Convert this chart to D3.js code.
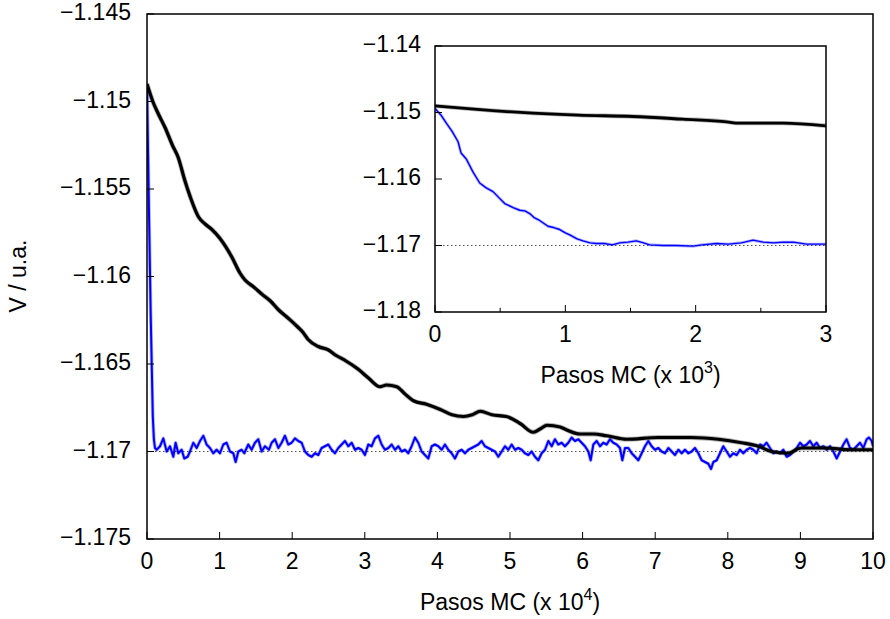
<!DOCTYPE html>
<html lang="es">
<head>
<meta charset="UTF-8">
<title>V vs Pasos MC</title>
<script src="https://d3js.org/d3.v7.min.js"></script>
<style>
  body { margin: 0; background: #fff; }
  svg { font-family: "Liberation Sans", Arial, sans-serif; }
  .frame { fill: none; stroke: #000; stroke-width: 1.5; }
  .tick-label { font-size: 23px; fill: #000; }
  .title { font-size: 23px; fill: #000; }
  .ref { stroke: #555; stroke-width: 1; stroke-dasharray: 1.5, 2.5; fill: none; }
</style>
</head>
<body>
<script>
// main plot, x in units of 10^4 MC steps
const mainXTicks = [0, 1, 2, 3, 4, 5, 6, 7, 8, 9, 10];
const mainYTicks = [-1.175, -1.17, -1.165, -1.16, -1.155, -1.15, -1.145];
const mainYLabels = ["\u22121.175", "\u22121.17", "\u22121.165", "\u22121.16", "\u22121.155", "\u22121.15", "\u22121.145"];

// inset, x in units of 10^3 MC steps
const insetXTicks = [0, 1, 2, 3];
const insetXMinor = [0.5, 1.5, 2.5];
const insetYTicks = [-1.18, -1.17, -1.16, -1.15, -1.14];
const insetYLabels = ["\u22121.18", "\u22121.17", "\u22121.16", "\u22121.15", "\u22121.14"];

const refLevel = -1.17;

const mainBlack = [
  [0, -1.1490], [0.08, -1.1500], [0.155, -1.1507], [0.25, -1.1515], [0.35, -1.1525],
  [0.43, -1.1532], [0.52, -1.1545], [0.6, -1.1555], [0.71, -1.1566], [0.8, -1.1570],
  [0.89, -1.1573], [1.0, -1.1578], [1.17, -1.1589], [1.28, -1.1598], [1.35, -1.1602],
  [1.47, -1.1606], [1.58, -1.1610], [1.7, -1.1614], [1.81, -1.1619], [1.95, -1.1624],
  [2.08, -1.1629], [2.15, -1.1632], [2.22, -1.1636], [2.36, -1.1640], [2.5, -1.1642],
  [2.6, -1.1645], [2.73, -1.1648], [2.91, -1.1653], [3.05, -1.1658], [3.21, -1.1663],
  [3.3, -1.1662], [3.44, -1.1663], [3.55, -1.1667], [3.67, -1.1671], [3.85, -1.1673],
  [4.04, -1.1676], [4.2, -1.1679], [4.36, -1.1680], [4.48, -1.1679], [4.59, -1.1677],
  [4.75, -1.1679], [4.95, -1.1680], [5.14, -1.1684], [5.32, -1.1689], [5.42, -1.1687],
  [5.51, -1.1685], [5.69, -1.1686], [5.8, -1.1688], [5.96, -1.1690], [6.15, -1.1690],
  [6.33, -1.1691], [6.61, -1.1693], [7.04, -1.1692], [7.5, -1.1692], [7.87, -1.1693],
  [8.19, -1.1695], [8.42, -1.1697], [8.6, -1.1700], [8.83, -1.1701], [9.01, -1.1698],
  [9.34, -1.1698], [9.7, -1.1699], [10.0, -1.1699]
];

const mainBlue = [
  [0, -1.1490], [0.015, -1.1530], [0.03, -1.1570], [0.05, -1.1620], [0.065, -1.1650],
  [0.08, -1.1680], [0.095, -1.1693], [0.11, -1.1698],
  [0.133, -1.1699], [0.179, -1.1697], [0.225, -1.16925], [0.271, -1.1700], [0.317, -1.1697],
  [0.362, -1.1703], [0.394, -1.1695], [0.431, -1.1701], [0.477, -1.1699], [0.514, -1.1704],
  [0.56, -1.1703], [0.592, -1.1700], [0.638, -1.1695], [0.684, -1.1698], [0.73, -1.1694],
  [0.776, -1.1691], [0.821, -1.1696], [0.867, -1.1698], [0.913, -1.1701], [0.959, -1.1699],
  [1.005, -1.1701], [1.051, -1.1696], [1.097, -1.1695], [1.143, -1.1700], [1.189, -1.1701],
  [1.221, -1.1706], [1.258, -1.1700], [1.304, -1.1699], [1.34, -1.1701], [1.395, -1.1696],
  [1.441, -1.1699], [1.487, -1.1695], [1.533, -1.1693], [1.579, -1.1700], [1.625, -1.1697],
  [1.68, -1.1699], [1.717, -1.1695], [1.763, -1.1693], [1.809, -1.1698], [1.854, -1.1695],
  [1.9, -1.1691], [1.946, -1.1696], [1.992, -1.1695], [2.038, -1.16925], [2.084, -1.1694],
  [2.13, -1.1695], [2.176, -1.1700], [2.222, -1.1702], [2.268, -1.1703], [2.314, -1.1701],
  [2.36, -1.1702], [2.405, -1.1698], [2.451, -1.1697], [2.497, -1.1696], [2.543, -1.1699],
  [2.589, -1.1701], [2.635, -1.1698], [2.681, -1.1696], [2.727, -1.1694], [2.773, -1.1697],
  [2.819, -1.1695], [2.865, -1.1699], [2.91, -1.1698], [2.956, -1.1699], [3.002, -1.1702],
  [3.048, -1.1696], [3.094, -1.1697], [3.14, -1.16925], [3.186, -1.1691], [3.232, -1.1696],
  [3.278, -1.1699], [3.324, -1.1698], [3.37, -1.1696], [3.416, -1.1699], [3.462, -1.1697],
  [3.508, -1.1700], [3.553, -1.1699], [3.599, -1.1701], [3.645, -1.1697], [3.691, -1.1692],
  [3.737, -1.1695], [3.783, -1.1700], [3.829, -1.1702], [3.875, -1.1704], [3.921, -1.1697],
  [3.967, -1.1696], [4.013, -1.1697], [4.059, -1.1699], [4.104, -1.1696], [4.15, -1.1699],
  [4.196, -1.1701], [4.242, -1.1704], [4.288, -1.1700], [4.334, -1.1699], [4.38, -1.1701],
  [4.426, -1.1699], [4.472, -1.1698], [4.518, -1.1697], [4.563, -1.1696], [4.609, -1.1694],
  [4.655, -1.1697], [4.701, -1.1698], [4.747, -1.1699], [4.793, -1.1700], [4.839, -1.1703],
  [4.885, -1.1700], [4.931, -1.1697], [4.977, -1.1699], [5.023, -1.1696], [5.069, -1.1699],
  [5.114, -1.1698], [5.16, -1.1699], [5.206, -1.1701], [5.252, -1.1702], [5.298, -1.1700],
  [5.344, -1.1703], [5.39, -1.1705], [5.436, -1.1701], [5.482, -1.1699], [5.528, -1.1694],
  [5.574, -1.1697], [5.619, -1.1693], [5.665, -1.1696], [5.711, -1.1695], [5.757, -1.1697],
  [5.803, -1.1695], [5.849, -1.1692], [5.895, -1.1694], [5.941, -1.1693], [5.987, -1.1695],
  [6.033, -1.1697], [6.079, -1.1700], [6.111, -1.1705], [6.148, -1.1696], [6.194, -1.1694],
  [6.24, -1.1697], [6.285, -1.1695], [6.331, -1.1696], [6.377, -1.1693], [6.423, -1.1695],
  [6.469, -1.1696], [6.515, -1.1698], [6.547, -1.1705], [6.584, -1.1698], [6.63, -1.1698],
  [6.676, -1.1701], [6.722, -1.1703], [6.768, -1.1705], [6.814, -1.1701], [6.859, -1.1697],
  [6.905, -1.1694], [6.951, -1.1697], [6.997, -1.1699], [7.043, -1.1698], [7.089, -1.1700],
  [7.135, -1.1701], [7.181, -1.1698], [7.227, -1.1700], [7.273, -1.1702], [7.319, -1.1699],
  [7.365, -1.1701], [7.41, -1.1699], [7.456, -1.1701], [7.502, -1.1700], [7.548, -1.1698],
  [7.594, -1.1701], [7.64, -1.1705], [7.686, -1.1706], [7.732, -1.1707], [7.769, -1.1710],
  [7.801, -1.1706], [7.847, -1.1705], [7.893, -1.1701], [7.938, -1.1697], [7.984, -1.1700],
  [8.03, -1.1703], [8.076, -1.1701], [8.122, -1.1702], [8.168, -1.1699], [8.214, -1.1701],
  [8.26, -1.1699], [8.306, -1.1698], [8.352, -1.1699], [8.398, -1.1701], [8.444, -1.1696],
  [8.489, -1.1697], [8.535, -1.1695], [8.581, -1.1698], [8.627, -1.1701], [8.673, -1.1700],
  [8.719, -1.1701], [8.765, -1.1699], [8.811, -1.1703], [8.857, -1.1702], [8.903, -1.1700],
  [8.949, -1.1698], [8.995, -1.1695], [9.041, -1.1697], [9.087, -1.1696], [9.132, -1.1694],
  [9.178, -1.1697], [9.224, -1.1695], [9.27, -1.1698], [9.316, -1.1697], [9.362, -1.1699],
  [9.408, -1.1697], [9.454, -1.1700], [9.5, -1.1704], [9.546, -1.1700], [9.592, -1.1696],
  [9.637, -1.1693], [9.683, -1.1698], [9.729, -1.1699], [9.775, -1.1697], [9.821, -1.1695],
  [9.867, -1.1698], [9.913, -1.1693], [9.945, -1.1692], [9.982, -1.1694], [10.0, -1.1697]
];

const insetBlack = [
  [0, -1.1490], [0.3, -1.1495], [0.75, -1.1501], [1.1, -1.1504], [1.52, -1.1506],
  [1.9, -1.1510], [2.24, -1.1514], [2.31, -1.1516], [2.67, -1.1516], [3.0, -1.1520]
];

const insetBlue = [
  [0, -1.1494], [0.05, -1.1505], [0.087, -1.1516], [0.13, -1.1528], [0.177, -1.1544],
  [0.2, -1.1561], [0.24, -1.1570], [0.29, -1.1589], [0.343, -1.1606], [0.39, -1.1613],
  [0.445, -1.1619], [0.49, -1.1628], [0.535, -1.1637], [0.6, -1.1643], [0.65, -1.1647],
  [0.69, -1.1648], [0.727, -1.1652], [0.76, -1.1658], [0.8, -1.1662], [0.867, -1.1671],
  [0.91, -1.1673], [0.957, -1.1676], [1.0, -1.1681], [1.034, -1.1684], [1.09, -1.1690],
  [1.136, -1.1693], [1.19, -1.1696], [1.238, -1.1697], [1.3, -1.1697], [1.36, -1.1699],
  [1.417, -1.1696], [1.48, -1.1695], [1.545, -1.1693], [1.6, -1.1696], [1.648, -1.1699],
  [1.75, -1.1700], [1.85, -1.1700], [1.98, -1.1701], [2.05, -1.1699], [2.16, -1.1697],
  [2.25, -1.1698], [2.35, -1.1696], [2.44, -1.1692], [2.52, -1.1695], [2.6, -1.1696],
  [2.67, -1.1695], [2.75, -1.1695], [2.85, -1.1698], [2.92, -1.1698], [3.0, -1.1698]
];

const svg = d3.select("body").append("svg")
  .attr("width", 890)
  .attr("height", 619);

const defs = svg.append("defs");

function drawPanel(cfg) {
  const x = d3.scaleLinear().domain(cfg.xDomain).range([cfg.left, cfg.right]);
  const y = d3.scaleLinear().domain(cfg.yDomain).range([cfg.bottom, cfg.top]);
  const g = svg.append("g");

  if (cfg.background) {
    g.append("rect")
      .attr("x", cfg.left).attr("y", cfg.top)
      .attr("width", cfg.right - cfg.left).attr("height", cfg.bottom - cfg.top)
      .attr("fill", "#fff");
  }

  defs.append("clipPath").attr("id", cfg.id)
    .append("rect")
    .attr("x", cfg.left).attr("y", cfg.top - 2)
    .attr("width", cfg.right - cfg.left).attr("height", cfg.bottom - cfg.top + 4);

  const plot = g.append("g").attr("clip-path", `url(#${cfg.id})`);

  // reference level
  plot.append("line")
    .attr("class", "ref")
    .attr("x1", x(cfg.xDomain[0])).attr("x2", x(cfg.xDomain[1]))
    .attr("y1", y(refLevel)).attr("y2", y(refLevel));

  cfg.series.forEach(s => {
    const line = d3.line().x(d => x(d[0])).y(d => y(d[1]))
      .curve(s.smooth ? d3.curveMonotoneX : d3.curveLinear);
    // soft halo to mimic the fuzzy trace
    plot.append("path")
      .datum(s.data)
      .attr("d", line)
      .attr("fill", "none")
      .attr("stroke", s.color)
      .attr("stroke-opacity", 0.3)
      .attr("stroke-width", s.width + 1.6)
      .attr("stroke-linejoin", "round");
    plot.append("path")
      .datum(s.data)
      .attr("d", line)
      .attr("fill", "none")
      .attr("stroke", s.color)
      .attr("stroke-width", s.width)
      .attr("stroke-linejoin", "round");
  });

  // inward ticks
  const tickLen = cfg.tickLen;
  g.selectAll(".xt").data(cfg.xTicks).enter().append("line")
    .attr("x1", d => x(d)).attr("x2", d => x(d))
    .attr("y1", cfg.bottom).attr("y2", cfg.bottom - tickLen)
    .attr("stroke", "#000").attr("stroke-width", 1);
  g.selectAll(".xm").data(cfg.xMinor || []).enter().append("line")
    .attr("x1", d => x(d)).attr("x2", d => x(d))
    .attr("y1", cfg.bottom).attr("y2", cfg.bottom - tickLen * 0.6)
    .attr("stroke", "#000").attr("stroke-width", 1);
  g.selectAll(".yt").data(cfg.yTicks).enter().append("line")
    .attr("x1", cfg.left).attr("x2", cfg.left + tickLen)
    .attr("y1", d => y(d)).attr("y2", d => y(d))
    .attr("stroke", "#000").attr("stroke-width", 1);

  g.append("rect")
    .attr("class", "frame")
    .attr("x", cfg.left).attr("y", cfg.top)
    .attr("width", cfg.right - cfg.left).attr("height", cfg.bottom - cfg.top);

  g.selectAll(".xl").data(cfg.xTicks).enter().append("text")
    .attr("class", "tick-label")
    .attr("x", d => x(d))
    .attr("y", cfg.bottom + cfg.xLabelGap)
    .attr("text-anchor", "middle")
    .attr("dominant-baseline", "middle")
    .text(d => d);

  g.selectAll(".yl").data(cfg.yTicks).enter().append("text")
    .attr("class", "tick-label")
    .attr("x", cfg.left - cfg.yLabelGap)
    .attr("y", d => y(d))
    .attr("text-anchor", "end")
    .attr("dominant-baseline", "middle")
    .text((d, i) => cfg.yLabels[i]);

  const t = g.append("text")
    .attr("class", "title")
    .attr("x", (cfg.left + cfg.right) / 2)
    .attr("y", cfg.bottom + cfg.titleGap)
    .attr("text-anchor", "middle");
  t.append("tspan").text(`Pasos MC (x 10`);
  t.append("tspan").attr("dy", -10).style("font-size", "16px").text(cfg.exponent);
  t.append("tspan").attr("dy", 10).text(")");
}

drawPanel({
  id: "clipMain",
  left: 147, right: 873, top: 14, bottom: 539,
  xDomain: [0, 10], yDomain: [-1.175, -1.145],
  xTicks: mainXTicks, yTicks: mainYTicks, yLabels: mainYLabels,
  tickLen: 7, xLabelGap: 24, yLabelGap: 16, titleGap: 71,
  exponent: "4",
  series: [
    { data: mainBlue, color: "#0000ff", width: 2 },
    { data: mainBlack, color: "#000", width: 3.2, smooth: true }
  ]
});

drawPanel({
  id: "clipInset",
  background: true,
  left: 435, right: 826, top: 46, bottom: 312,
  xDomain: [0, 3], yDomain: [-1.18, -1.14],
  xTicks: insetXTicks, xMinor: insetXMinor, yTicks: insetYTicks, yLabels: insetYLabels,
  tickLen: 7, xLabelGap: 24, yLabelGap: 14, titleGap: 71,
  exponent: "3",
  series: [
    { data: insetBlack, color: "#000", width: 2.8, smooth: true },
    { data: insetBlue, color: "#0000ff", width: 1.4 }
  ]
});

svg.append("text")
  .attr("class", "title")
  .attr("transform", "translate(26,276) rotate(-90)")
  .attr("text-anchor", "middle")
  .text("V / u.a.");
</script>
</body>
</html>
